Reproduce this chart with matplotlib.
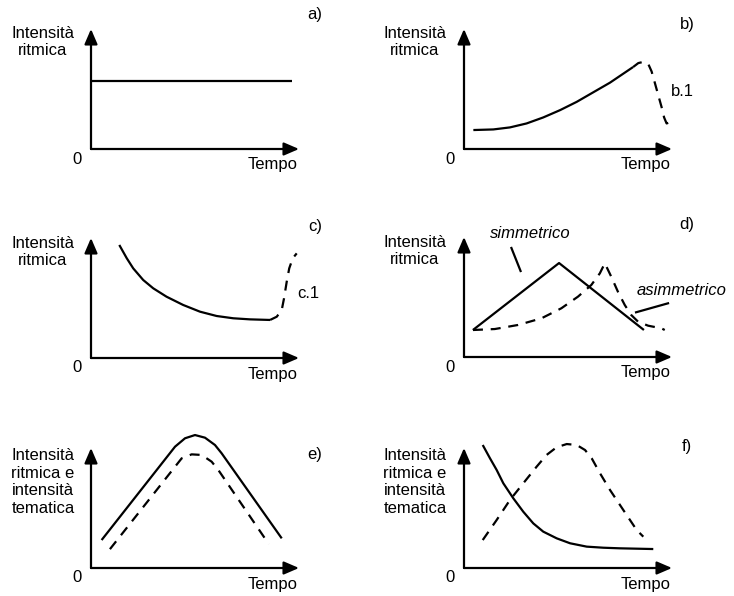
import matplotlib
matplotlib.use("Agg")
import matplotlib.pyplot as plt

plt.rcParams['font.family'] = ['Liberation Sans', 'DejaVu Sans']

W, H = 734, 596

# ---------------- data (time units 0..10, intensity units 0..10) ----------------
a_x = [0.0, 9.66]
a_y = [5.67, 5.67]

b_x = [0.45, 1.41, 2.21, 3.01, 3.81, 4.62, 5.42, 6.22, 7.02, 8.13]
b_y = [1.58, 1.63, 1.80, 2.13, 2.63, 3.24, 3.93, 4.73, 5.53, 6.83]
b1_x = [8.13, 8.38, 8.62, 8.86, 9.02, 9.18, 9.34, 9.50, 9.62, 9.74, 9.94, 10.03]
b1_y = [6.83, 7.16, 7.26, 7.08, 6.46, 5.48, 4.48, 3.49, 2.63, 2.13, 2.25, 2.45]

c_x = [1.36, 1.72, 2.03, 2.51, 2.99, 3.63, 4.43, 5.24, 6.04, 6.84, 7.64, 8.61]
c_y = [9.42, 8.31, 7.47, 6.50, 5.81, 5.11, 4.42, 3.86, 3.50, 3.31, 3.22, 3.17]
c1_x = [8.61, 8.93, 9.17, 9.28, 9.41, 9.53, 9.70, 9.89]
c1_y = [3.17, 3.44, 4.00, 4.97, 6.36, 7.47, 8.31, 8.72]

d_sym_x = [0.43, 4.57, 8.65]
d_sym_y = [2.25, 7.83, 2.25]
d_asym_x = [0.43, 1.48, 2.60, 3.72, 4.68, 5.48, 6.12, 6.53, 6.77, 7.08, 7.40, 7.73, 8.04, 8.37, 8.85, 9.49, 9.65]
d_asym_y = [2.25, 2.33, 2.67, 3.22, 4.06, 5.03, 6.00, 6.97, 7.81, 6.69, 5.44, 4.33, 3.50, 2.94, 2.61, 2.39, 2.25]

e_rit_x = [0.51, 4.04, 4.52, 5.00, 5.48, 5.96, 6.28, 9.17]
e_rit_y = [2.33, 10.11, 10.81, 11.08, 10.86, 10.25, 9.56, 2.47]
e_tem_x = [0.91, 4.04, 4.36, 4.84, 5.32, 5.80, 6.12, 8.55]
e_tem_y = [1.57, 8.44, 9.14, 9.47, 9.42, 8.86, 8.17, 1.99]

f_rit_x = [0.90, 1.25, 1.57, 1.89, 2.37, 2.85, 3.33, 3.81, 4.46, 5.10, 5.90, 6.70, 7.50, 9.10]
f_rit_y = [10.25, 9.14, 8.17, 7.06, 5.81, 4.69, 3.72, 3.03, 2.47, 2.06, 1.78, 1.69, 1.64, 1.58]
f_tem_x = [0.90, 1.57, 2.21, 2.85, 3.49, 3.97, 4.45, 4.94, 5.42, 5.82, 6.14, 6.54, 7.02, 7.66, 8.30, 8.62]
f_tem_y = [2.33, 4.00, 5.67, 7.06, 8.44, 9.42, 10.06, 10.33, 10.25, 9.83, 9.14, 7.89, 6.50, 4.83, 3.17, 2.61]

panel_letters = ['a)', 'b)', 'c)', 'd)', 'e)', 'f)']
ylabel_short = 'Intensità\nritmica'
ylabel_long = 'Intensità\nritmica e\nintensità\ntematica'
xlabel = 'Tempo'
zero_label = '0'

# ---------------- layout (pixels) ----------------
origins = [(91, 149), (464, 149), (91, 358), (464, 357), (91, 568), (464, 568)]
AX_W, AX_H = 208, 120
letter_pos = [(315, 15), (687, 25), (315, 227), (687, 225), (315, 455), (687, 447)]
ylab_pos = [(43, 42), (415, 42), (43, 252), (415, 251), (43, 482), (415, 482)]
ylabels = [ylabel_short, ylabel_short, ylabel_short, ylabel_short, ylabel_long, ylabel_long]

FS = 12
fig = plt.figure(figsize=(W / 100, H / 100), dpi=100)

def fx(px):
    return px / W

def fy(py):
    return 1 - py / H

axes = []
for i, (ox, oy) in enumerate(origins):
    ax = fig.add_axes([ox / W, (H - oy) / H, AX_W / W, AX_H / H])
    ax.set_xlim(0, 10)
    ax.set_ylim(0, 10)
    ax.axis('off')
    ap = dict(arrowstyle='-|>,head_length=0.65,head_width=0.28', lw=1.6, color='black',
              mutation_scale=14, shrinkA=0, shrinkB=0)
    ax.annotate('', xy=(10, 0), xytext=(0, 0), arrowprops=ap, annotation_clip=False)
    ax.annotate('', xy=(0, 10), xytext=(0, 0), arrowprops=ap, annotation_clip=False)
    axes.append(ax)
    fig.text(fx(ox - 14), fy(oy + 10), zero_label, fontsize=FS, ha='center', va='center')
    fig.text(fx(ox + 182), fy(oy + 16), xlabel, fontsize=FS, ha='center', va='center')
    lx, ly = letter_pos[i]
    fig.text(fx(lx), fy(ly), panel_letters[i], fontsize=FS, ha='center', va='center')
    yx, yy = ylab_pos[i]
    fig.text(fx(yx), fy(yy), ylabels[i], fontsize=FS, ha='center', va='center', linespacing=1.2)

lw = 1.6
dash = (0, (4.5, 3.5))
kw = dict(color='black', lw=lw, clip_on=False, solid_capstyle='butt',
          solid_joinstyle='round', dash_joinstyle='round')

ax = axes[0]
ax.plot(a_x, a_y, **kw)

ax = axes[1]
ax.plot(b_x, b_y, **kw)
ax.plot(b1_x, b1_y, linestyle=dash, **kw)
ax.text(10.5, 4.75, 'b.1', fontsize=FS, ha='center', va='center')

ax = axes[2]
ax.plot(c_x, c_y, **kw)
ax.plot(c1_x, c1_y, linestyle=dash, **kw)
ax.text(10.45, 5.4, 'c.1', fontsize=FS, ha='center', va='center')

ax = axes[3]
ax.plot(d_sym_x, d_sym_y, **kw)
ax.plot(d_asym_x, d_asym_y, linestyle=dash, **kw)
ax.plot([2.26, 2.74], [9.17, 7.08], **kw)
ax.plot([9.86, 8.22], [4.5, 3.7], **kw)
ax.text(3.17, 10.33, 'simmetrico', fontsize=FS, style='italic', ha='center', va='center')
ax.text(10.48, 5.58, 'asimmetrico', fontsize=FS, style='italic', ha='center', va='center')

ax = axes[4]
ax.plot(e_rit_x, e_rit_y, **kw)
ax.plot(e_tem_x, e_tem_y, linestyle=dash, **kw)

ax = axes[5]
ax.plot(f_rit_x, f_rit_y, **kw)
ax.plot(f_tem_x, f_tem_y, linestyle=dash, **kw)

fig.savefig('out.png', dpi=100)
